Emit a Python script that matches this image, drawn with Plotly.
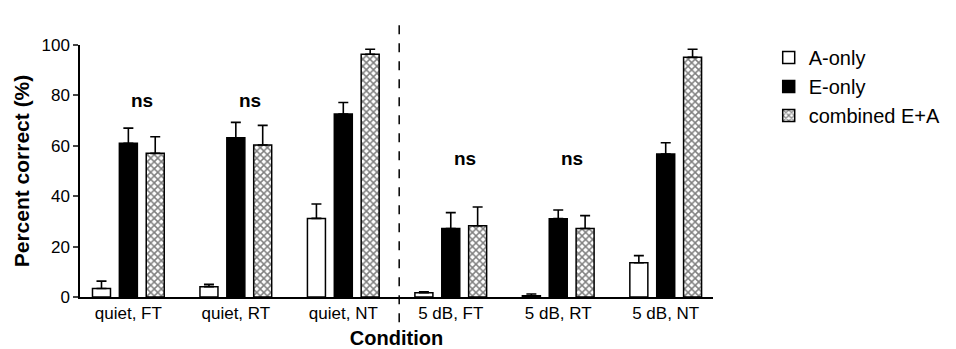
import plotly.graph_objects as go

categories = ["quiet, FT", "quiet, RT", "quiet, NT", "5 dB, FT", "5 dB, RT", "5 dB, NT"]
a_only = [3.4, 4.1, 31.2, 1.7, 0.5, 13.6]
a_only_err = [2.9, 0.9, 5.7, 0.4, 0.7, 2.8]
e_only = [61.0, 63.2, 72.6, 27.2, 31.1, 56.7]
e_only_err = [6.0, 6.1, 4.6, 6.3, 3.4, 4.5]
combined = [57.0, 60.3, 96.3, 28.3, 27.2, 95.1]
combined_err = [6.6, 7.8, 2.0, 7.4, 5.1, 3.2]
sig_labels = ["ns", "ns", "s", "ns", "ns", "s"]
sig_heights = [77.8, 77.8, 107.5, 55.0, 55.0, 107.5]

FONT = "Liberation Sans, Arial, sans-serif"

def err(vals):
    return dict(type="data", array=vals, arrayminus=[0] * len(vals), symmetric=False,
                color="black", thickness=1.6, width=5)

fig = go.Figure()
fig.add_trace(go.Bar(name="A-only", x=categories, y=a_only, error_y=err(a_only_err),
                     marker=dict(color="white", line=dict(color="black", width=1.5))))
fig.add_trace(go.Bar(name="E-only", x=categories, y=e_only, error_y=err(e_only_err),
                     marker=dict(color="black", line=dict(color="black", width=1.5))))
fig.add_trace(go.Bar(name="combined E+A", x=categories, y=combined, error_y=err(combined_err),
                     marker=dict(color="white", line=dict(color="black", width=1.5),
                                 pattern=dict(shape="x", fgcolor="black", bgcolor="white",
                                              size=5, solidity=0.5))))

for cat, lab, h in zip(categories, sig_labels, sig_heights):
    fig.add_annotation(x=cat, y=h, text="<b>%s</b>" % lab, showarrow=False, xshift=14,
                       font=dict(family=FONT, size=19, color="black"), yanchor="middle")

fig.add_shape(type="line", xref="x", yref="paper", x0=2.52, x1=2.52, y0=-0.1, y1=1.1,
              line=dict(color="black", width=1.5, dash="dash"))

fig.update_layout(
    width=956, height=349,
    margin=dict(l=72, r=251, t=37, b=60, autoexpand=False),
    paper_bgcolor="white", plot_bgcolor="white",
    barmode="group", bargap=0.25, bargroupgap=0.33,
    font=dict(family=FONT, size=17, color="black"),
    showlegend=True,
    legend=dict(x=1.088, y=1.028, xanchor="left", yanchor="top",
                font=dict(family=FONT, size=20, color="black"),
                tracegroupgap=0, itemwidth=30),
    xaxis=dict(range=[-0.45, 5.44], showline=True, linecolor="black", linewidth=1.5,
               ticks="", showgrid=False, zeroline=False, automargin=False,
               tickfont=dict(size=17),
               title=dict(text="<b>Condition</b>", font=dict(size=20), standoff=9)),
    yaxis=dict(range=[0, 100], tickvals=[0, 20, 40, 60, 80, 100], showline=True,
               linecolor="black", linewidth=1.5, ticks="outside", ticklen=5, tickwidth=1.5,
               showgrid=False, zeroline=False, automargin=False, tickfont=dict(size=17),
               title=dict(text="<b>Percent correct (%)</b>", font=dict(size=21), standoff=6)),
)

fig.write_html("out.html")
